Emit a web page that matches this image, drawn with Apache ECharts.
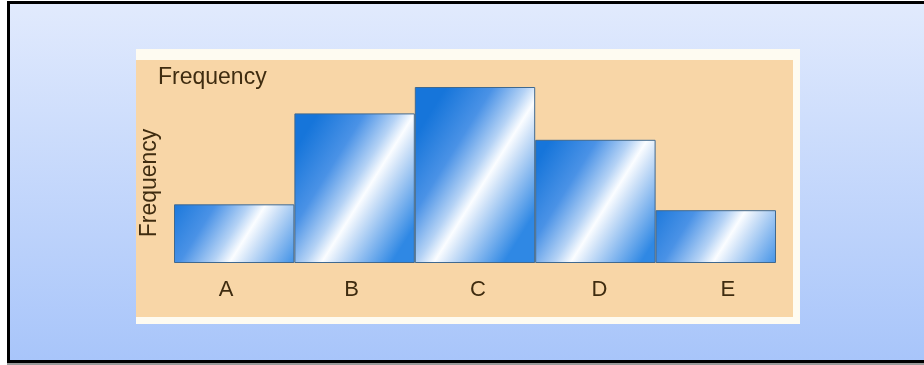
<!DOCTYPE html>
<html>
<head>
<meta charset="utf-8">
<script src="https://cdn.jsdelivr.net/npm/echarts@6/dist/echarts.min.js"></script>
<style>
  html, body { margin: 0; padding: 0; background: #fff; }
  .frame {
    position: absolute; left: 7px; top: 1px; width: 917px; height: 362px;
    box-sizing: border-box;
    border: 3px solid #000; border-right: none;
    background: linear-gradient(#e1eafd, #a8c5fa);
  }
  .under { position: absolute; left: 7px; top: 363px; width: 917px; height: 2px; background: #9a9a9a; }
  .charts { position: absolute; left: 0; top: 0; width: 924px; height: 365px; }
</style>
</head>
<body>
<div class="frame"></div>
<div class="under"></div>
<div class="charts" id="main"></div>
<script>
// histogram data
const categories = ["A", "B", "C", "D", "E"];
const frequency = [2, 5.1, 6, 4.2, 1.8];
const yMax = 6;

// label nudges, the picture has them a bit off the bar centres
const labelShift = [-8, -3, 3, 4, 12];

const textColor = "#3f2c10";
const font = "'Liberation Sans', Arial, sans-serif";

// gradient with a diagonal white streak, kept at roughly the same angle for each bar
function barColor(v) {
  const b = 1.28 / v;
  return new echarts.graphic.LinearGradient(0, 0.5 - b, 1, 0.5 + b, [
    { offset: 0, color: "#1675da" },
    { offset: 0.28, color: "#4a92e6" },
    { offset: 0.48, color: "#b4d2f5" },
    { offset: 0.58, color: "#fbfdff" },
    { offset: 0.67, color: "#cfe2f8" },
    { offset: 0.82, color: "#86b8ef" },
    { offset: 1, color: "#2f88e4" },
  ]);
}

const myChart = echarts.init(document.getElementById("main"));
const option = {
  animation: false,
  grid: { left: 174, right: 148, top: 87, bottom: 102 },
  graphic: [
    {
      type: "rect", z: -10, silent: true,
      shape: { x: 136, y: 49, width: 664, height: 275 },
      style: { fill: "#fefbf1" },
    },
    {
      type: "rect", z: -9, silent: true,
      shape: { x: 136, y: 60, width: 657, height: 257 },
      style: { fill: "#f8d6a7" },
    },
    {
      type: "text", z: 5, x: 158, y: 78,
      style: {
        text: "Frequency", fill: textColor, font: "23px " + font,
        textAlign: "left", textVerticalAlign: "middle",
      },
    },
    {
      type: "text", z: 5, x: 150, y: 183, rotation: Math.PI / 2,
      style: {
        text: "Frequency", fill: textColor, font: "23px " + font,
        textAlign: "center", textVerticalAlign: "middle",
      },
    },
  ],
  xAxis: {
    type: "category",
    data: categories.map((c, i) => ({
      value: c,
      textStyle: {
        padding: labelShift[i] < 0 ? [0, -2 * labelShift[i], 0, 0] : [0, 0, 0, 2 * labelShift[i]],
      },
    })),
    axisLine: { show: false },
    axisTick: { show: false },
    axisLabel: {
      color: textColor,
      fontSize: 22,
      fontFamily: font,
      margin: 16,
    },
  },
  yAxis: {
    type: "value",
    min: 0,
    max: yMax,
    show: false,
    splitLine: { show: false },
  },
  series: [
    {
      type: "bar",
      barCategoryGap: "0%",
      data: frequency.map((v) => ({
        value: v,
        itemStyle: { color: barColor(v) },
      })),
      itemStyle: {
        borderColor: "#40698f",
        borderWidth: 1,
      },
    },
  ],
};
myChart.setOption(option);
</script>
</body>
</html>
